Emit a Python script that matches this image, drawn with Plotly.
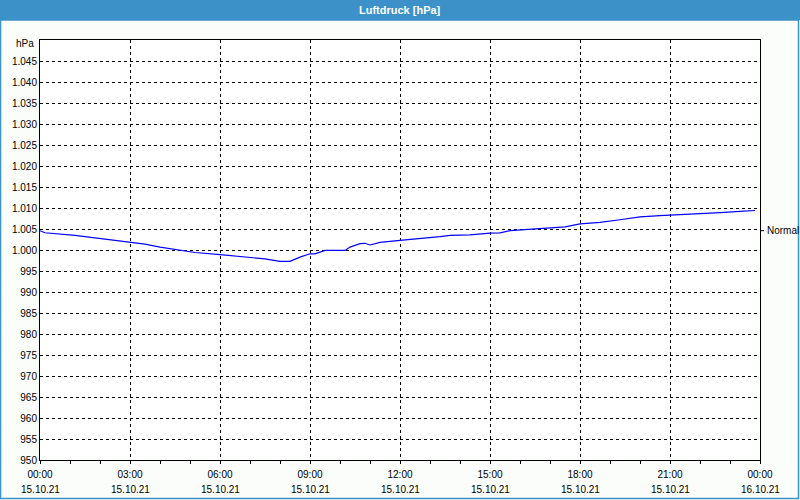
import plotly.graph_objects as go

times = ["00:00", "00:10", "01:10", "02:00", "03:00", "03:30", "04:00", "04:30", "05:10", "06:00",
         "06:40", "07:30", "08:00", "08:20", "08:40", "09:00", "09:10", "09:30", "10:10", "10:20",
         "10:40", "10:50", "11:00", "11:20", "12:00", "12:40", "13:20", "13:40", "14:20", "15:00",
         "15:20", "15:40", "16:40", "17:30", "18:00", "18:40", "19:20", "20:00", "20:40", "21:20",
         "22:00", "22:40", "23:20", "23:50"]
pressure = [1004.6, 1004.1, 1003.5, 1002.7, 1001.8, 1001.4, 1000.7, 1000.1, 999.4, 998.9,
            998.5, 997.9, 997.3, 997.3, 998.3, 999.1, 999.1, 999.9, 999.9, 1000.7,
            1001.5, 1001.6, 1001.2, 1001.8, 1002.3, 1002.7, 1003.2, 1003.5, 1003.6, 1004.0,
            1004.1, 1004.6, 1005.0, 1005.5, 1006.2, 1006.6, 1007.2, 1007.9, 1008.2, 1008.4,
            1008.6, 1008.9, 1009.2, 1009.4]
normal_value = 1004.6

y_ticks = list(range(950, 1050, 5))
y_labels = [f"{v // 1000}.{v % 1000:03d}" if v >= 1000 else str(v) for v in y_ticks]

x_ticks = ["2021-10-15 %02d:00" % h for h in range(0, 24, 3)] + ["2021-10-16 00:00"]
x_time_labels = ["%02d:00" % h for h in range(0, 24, 3)] + ["00:00"]
x_date_labels = ["15.10.21"] * 8 + ["16.10.21"]

x_vals = ["2021-10-15 " + t for t in times]

FONT = "Liberation Sans"
fig = go.Figure()
fig.add_trace(go.Scatter(x=x_vals, y=pressure, mode="lines",
                         line=dict(color="#0000ff", width=1.2), hoverinfo="skip"))

W, H = 800, 500
L, R, T, B = 40, 40, 40, 40
pw, ph = W - L - R, H - T - B

annotations = [
    dict(text="<b>Luftdruck [hPa]</b>", xref="paper", yref="paper",
         x=0.5, y=1 + (T - 10) / ph, showarrow=False,
         font=dict(family=FONT, size=11, color="#ffffff"), xanchor="center", yanchor="middle"),
    dict(text="hPa", xref="paper", yref="paper", x=-4 / pw, y=1 - 4 / ph,
         showarrow=False, xanchor="right", yanchor="middle", font=dict(family=FONT, size=10)),
    dict(text="Normal", xref="paper", yref="y", x=1 + 5 / pw, y=normal_value,
         showarrow=False, xanchor="left", yanchor="middle", font=dict(family=FONT, size=10)),
]
for xv, d in zip(x_ticks, x_date_labels):
    annotations.append(dict(text=d, xref="x", yref="paper", x=xv, y=0, yshift=-29,
                            showarrow=False, xanchor="center", yanchor="middle",
                            font=dict(family=FONT, size=10)))

fig.update_layout(
    width=W, height=H,
    margin=dict(l=L, r=R, t=T, b=B),
    paper_bgcolor="#fbfdfb", plot_bgcolor="#ffffff",
    showlegend=False,
    font=dict(family=FONT, size=10, color="#000000"),
    xaxis=dict(
        type="date",
        range=["2021-10-15 00:00", "2021-10-16 00:00"],
        tickvals=x_ticks, ticktext=x_time_labels,
        showgrid=True, gridcolor="#000000", gridwidth=1, griddash="3px,3px",
        showline=True, linecolor="#000000", linewidth=1, mirror=True,
        ticks="outside", ticklen=3, tickcolor="#000000", ticklabelstandoff=2,
        minor=dict(dtick=3600000, ticks="outside", ticklen=3, tickcolor="#000000", showgrid=False),
        zeroline=False, tickfont=dict(family=FONT, size=10),
    ),
    yaxis=dict(
        range=[950, 1050],
        tickvals=y_ticks, ticktext=y_labels,
        showgrid=True, gridcolor="#000000", gridwidth=1, griddash="3px,3px",
        showline=True, linecolor="#000000", linewidth=1, mirror=True,
        ticks="", zeroline=False, tickfont=dict(family=FONT, size=10),
    ),
    shapes=[
        dict(type="rect", xref="paper", yref="paper",
             x0=-L / pw, x1=1 + R / pw, y0=1 + (T - 20) / ph, y1=1 + T / ph,
             fillcolor="#3c92c8", line=dict(width=0), layer="above"),
        dict(type="rect", xref="paper", yref="paper",
             x0=-(L - 0.5) / pw, x1=1 + (R - 1.5) / pw, y0=-(B - 1.5) / ph, y1=1 + (T - 20) / ph,
             fillcolor="rgba(0,0,0,0)", line=dict(color="#3c92c8", width=1.5), layer="above"),
        dict(type="line", xref="paper", yref="y",
             x0=1, x1=1 + 4 / pw, y0=normal_value, y1=normal_value,
             line=dict(color="#000000", width=1)),
    ],
    annotations=annotations,
)

fig.write_html("out.html")
